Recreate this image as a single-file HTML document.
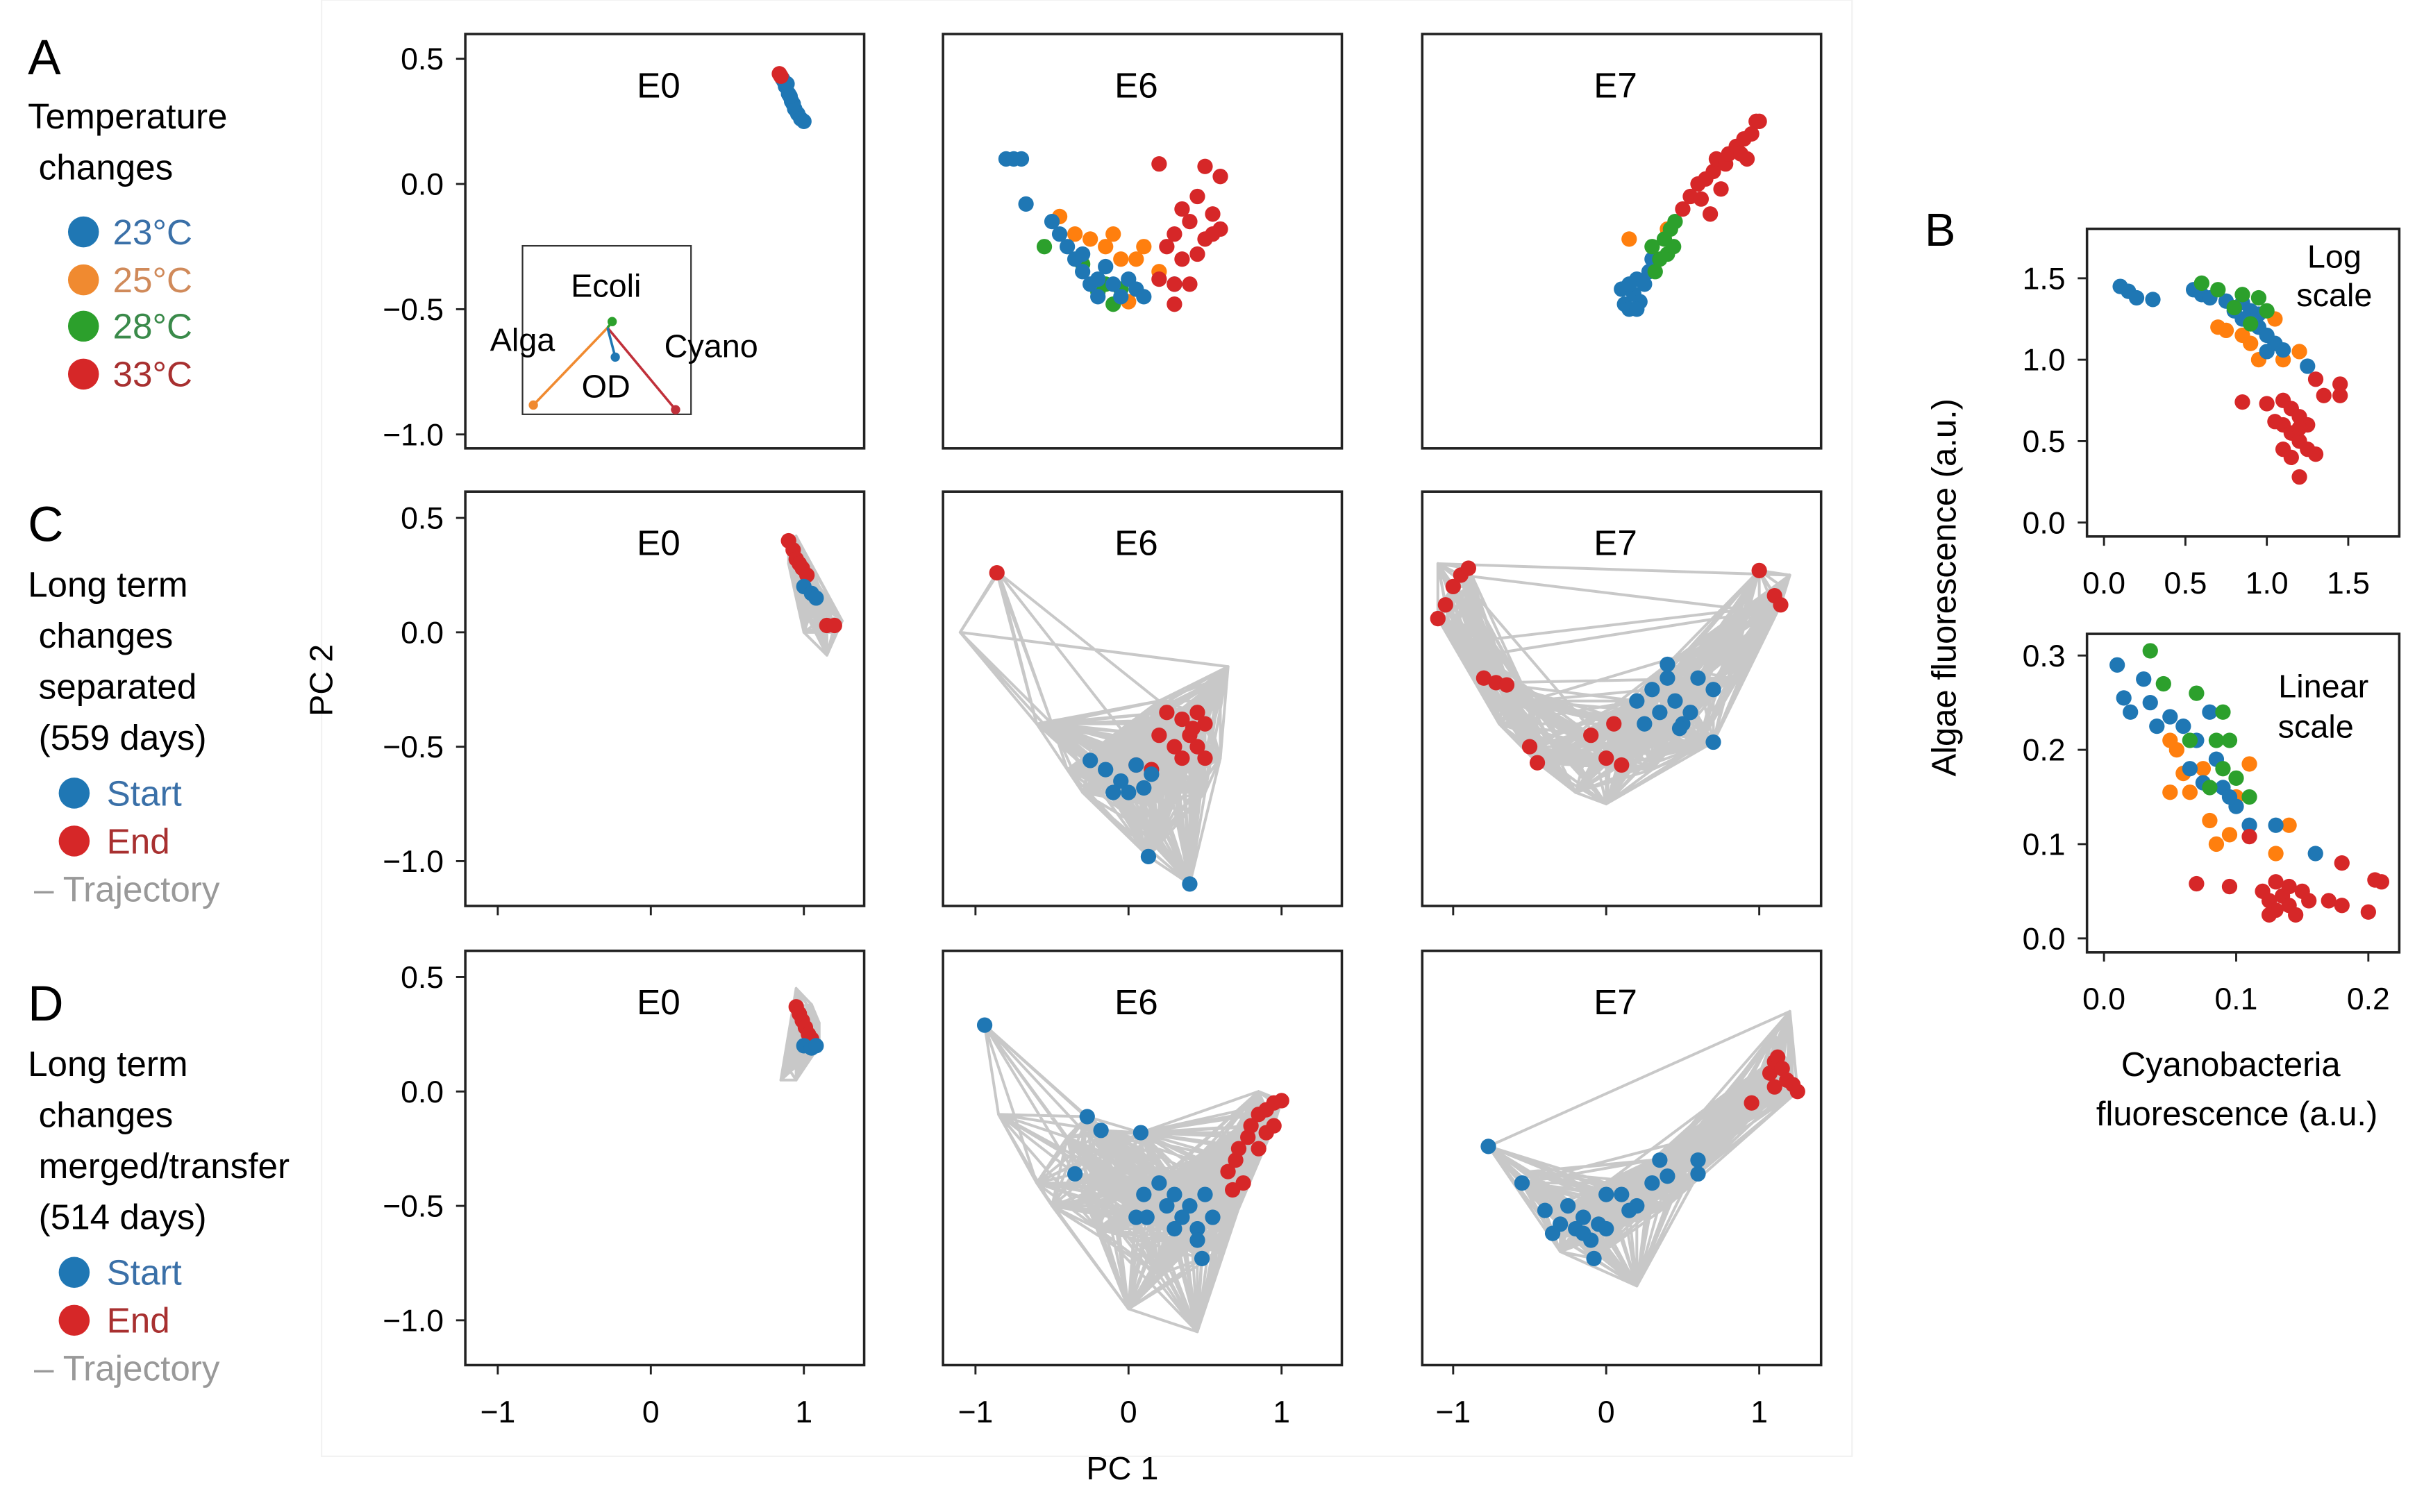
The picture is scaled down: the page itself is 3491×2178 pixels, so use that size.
<!DOCTYPE html>
<html><head><meta charset="utf-8"><style>
html,body{margin:0;padding:0;background:#fff;}
svg{display:block;font-family:"Liberation Sans","DejaVu Sans",sans-serif;}
</style></head><body>
<svg id="fig" width="3491" height="2178" viewBox="0 0 1568 978" preserveAspectRatio="none" xmlns="http://www.w3.org/2000/svg">
<rect x="0" y="0" width="1568" height="978" fill="#fff"/>
<rect x="208" y="0" width="990" height="942" fill="none" stroke="#f2f2f2" stroke-width="1"/>
<g font-size="23">
<text x="18" y="48" font-size="32">A</text>
<text x="18" y="83">Temperature</text>
<text x="25" y="116">changes</text>
<circle cx="54" cy="150" r="10" fill="#1f77b4"/><text x="73" y="158" fill="#3a70a8">23°C</text>
<circle cx="54" cy="181" r="10" fill="#f08a30"/><text x="73" y="189" fill="#d08a5a">25°C</text>
<circle cx="54" cy="211" r="10" fill="#2ca02c"/><text x="73" y="219" fill="#3a8a4a">28°C</text>
<circle cx="54" cy="242" r="10" fill="#d62728"/><text x="73" y="250" fill="#a83030">33°C</text>
</g>
<g font-size="23">
<text x="18" y="350" font-size="32">C</text>
<text x="18" y="386">Long term</text>
<text x="25" y="419">changes</text>
<text x="25" y="452">separated</text>
<text x="25" y="485">(559 days)</text>
<circle cx="48" cy="513" r="10" fill="#1f77b4"/><text x="69" y="521" fill="#3a70a8">Start</text>
<circle cx="48" cy="544" r="10" fill="#d62728"/><text x="69" y="552" fill="#a83030">End</text>
<text x="22" y="583" fill="#999">– Trajectory</text>
</g>
<g font-size="23">
<text x="18" y="660" font-size="32">D</text>
<text x="18" y="696">Long term</text>
<text x="25" y="729">changes</text>
<text x="25" y="762">merged/transfer</text>
<text x="25" y="795">(514 days)</text>
<circle cx="48" cy="823" r="10" fill="#1f77b4"/><text x="69" y="831" fill="#3a70a8">Start</text>
<circle cx="48" cy="854" r="10" fill="#d62728"/><text x="69" y="862" fill="#a83030">End</text>
<text x="22" y="893" fill="#999">– Trajectory</text>
</g>
<text x="726" y="957" font-size="21" text-anchor="middle">PC 1</text>
<text transform="translate(215,440) rotate(-90)" font-size="21" text-anchor="middle">PC 2</text>
<text x="1245" y="159" font-size="30">B</text>
<text transform="translate(1265,380) rotate(-90)" font-size="22" text-anchor="middle">Algae fluorescence (a.u.)</text>
<text x="1443" y="696" font-size="22" text-anchor="middle">Cyanobacteria</text>
<text x="1447" y="728" font-size="22" text-anchor="middle">fluorescence (a.u.)</text>
<text x="1510" y="173" font-size="21" text-anchor="middle">Log</text>
<text x="1510" y="198" font-size="21" text-anchor="middle">scale</text>
<text x="1503" y="451" font-size="21" text-anchor="middle">Linear</text>
<text x="1498" y="477" font-size="21" text-anchor="middle">scale</text>
<g id="plots"></g>
</svg>
<script>
const colors = {b:'#1f77b4', o:'#ff7f0e', g:'#2ca02c', r:'#d62728'};
const xTicksPC = [-1, 0, 1];
const yTicksPC = [0.5, 0.0, -0.5, -1.0];
const yTickLabelsPC = ['0.5', '0.0', '\u22120.5', '\u22121.0'];
const xTickLabelsPC = ['\u22121', '0', '1'];
const colTitles = ['E0', 'E6', 'E7'];

const aE0_b = [[0.86,0.42],[0.88,0.39],[0.89,0.40],[0.9,0.36],[0.92,0.33],[0.93,0.32],[0.94,0.3],[0.96,0.28],[0.98,0.26],[1.0,0.25],[0.87,0.41],[0.91,0.35]];
const aE0_r = [[0.84,0.44],[0.85,0.43]];
const aE6_b = [[-0.8,0.1],[-0.75,0.1],[-0.7,0.1],[-0.67,-0.08],[-0.5,-0.15],[-0.45,-0.2],[-0.4,-0.25],[-0.35,-0.3],[-0.3,-0.35],[-0.25,-0.4],[-0.2,-0.38],[-0.15,-0.33],[-0.1,-0.4],[-0.05,-0.45],[0.0,-0.38],[0.05,-0.42],[0.1,-0.45],[0.3,-0.4],[-0.2,-0.45],[-0.3,-0.28]];
const aE6_o = [[-0.45,-0.13],[-0.35,-0.2],[-0.25,-0.22],[-0.15,-0.25],[0.1,-0.25],[0.05,-0.3],[-0.05,-0.3],[0.2,-0.35],[0.0,-0.47],[-0.1,-0.2]];
const aE6_g = [[-0.55,-0.25],[-0.3,-0.32],[-0.2,-0.43],[-0.1,-0.48],[-0.15,-0.4],[-0.05,-0.42]];
const aE6_r = [[0.2,0.08],[0.5,0.07],[0.6,0.03],[0.45,-0.05],[0.35,-0.1],[0.55,-0.12],[0.4,-0.15],[0.6,-0.18],[0.3,-0.2],[0.5,-0.22],[0.45,-0.28],[0.35,-0.3],[0.3,-0.4],[0.4,-0.4],[0.2,-0.38],[0.3,-0.48],[0.55,-0.2],[0.25,-0.25]];
const aE7_b = [[0.1,-0.42],[0.12,-0.48],[0.15,-0.5],[0.18,-0.44],[0.2,-0.38],[0.22,-0.47],[0.25,-0.4],[0.28,-0.35],[0.15,-0.4],[0.2,-0.5],[0.3,-0.3]];
const aE7_g = [[0.3,-0.25],[0.35,-0.3],[0.38,-0.22],[0.42,-0.18],[0.45,-0.15],[0.4,-0.28],[0.32,-0.35],[0.44,-0.25]];
const aE7_o = [[0.15,-0.22],[0.4,-0.18]];
const aE7_r = [[0.5,-0.1],[0.55,-0.05],[0.6,0.0],[0.65,0.02],[0.7,0.05],[0.72,0.1],[0.78,0.08],[0.8,0.12],[0.85,0.15],[0.88,0.12],[0.9,0.18],[0.95,0.2],[0.98,0.25],[1.0,0.25],[0.75,-0.02],[0.62,-0.06],[0.92,0.1],[0.68,-0.12]];

const cE0_t = [[0.95,0.42],[1.1,0.05],[0.9,0.3],[1.2,0.0],[1.0,0.35],[1.15,-0.1],[0.95,0.2],[1.25,0.05],[1.0,0.1],[0.92,0.38],[1.1,0.2],[1.0,0.0]];
const cE0_r = [[0.9,0.4],[0.93,0.36],[0.95,0.32],[0.97,0.3],[0.99,0.28],[1.02,0.25],[1.15,0.03],[1.2,0.03]];
const cE0_b = [[1.0,0.2],[1.05,0.17],[1.08,0.15]];
const cE6_t = [[-0.85,0.26],[-1.1,0.0],[-0.6,-0.4],[0.1,-0.55],[-0.5,-0.4],[0.5,-0.3],[-0.3,-0.7],[0.6,-0.2],[0.2,-0.9],[0.0,-0.4],[0.65,-0.15],[-0.2,-0.5],[0.4,-1.1],[0.3,-0.6],[0.5,-0.7],[-0.4,-0.6],[0.1,-0.75],[0.6,-0.55],[0.2,-0.3]];
const cE6_r = [[-0.86,0.26],[0.25,-0.35],[0.35,-0.38],[0.45,-0.35],[0.5,-0.4],[0.4,-0.45],[0.3,-0.5],[0.45,-0.5],[0.35,-0.55],[0.5,-0.55],[0.2,-0.45],[0.05,-0.58],[0.15,-0.6],[0.42,-0.42]];
const cE6_b = [[-0.25,-0.56],[-0.15,-0.6],[-0.05,-0.65],[0.05,-0.58],[0.1,-0.68],[-0.1,-0.7],[0.0,-0.7],[0.15,-0.62],[0.13,-0.98],[0.4,-1.1]];
const cE7_t = [[-1.1,0.3],[-0.6,-0.3],[-1.1,0.1],[0.0,-0.75],[-0.8,-0.1],[0.5,-0.4],[-0.4,-0.55],[1.2,0.25],[-0.2,-0.7],[1.0,0.0],[0.3,-0.6],[0.8,-0.2],[-0.9,0.2],[0.2,-0.4],[-0.5,-0.3],[1.1,0.1],[0.6,-0.5],[-1.0,-0.05],[0.9,0.1],[0.0,-0.5],[-0.7,-0.4],[1.15,0.2]];
const cE7_r = [[-1.1,0.06],[-1.05,0.12],[-1.0,0.2],[-0.95,0.25],[-0.9,0.28],[-0.8,-0.2],[-0.72,-0.22],[-0.65,-0.23],[-0.5,-0.5],[-0.45,-0.57],[-0.1,-0.45],[0.0,-0.55],[0.05,-0.4],[0.1,-0.58],[1.0,0.27],[1.1,0.16],[1.14,0.12]];
const cE7_b = [[0.2,-0.3],[0.3,-0.25],[0.35,-0.35],[0.4,-0.2],[0.45,-0.3],[0.5,-0.4],[0.55,-0.35],[0.6,-0.2],[0.7,-0.25],[0.7,-0.48],[0.25,-0.4],[0.4,-0.14],[0.48,-0.42]];

const dE0_t = [[0.95,0.45],[0.85,0.05],[1.1,0.2],[0.9,0.1],[1.05,0.38],[0.95,0.05],[1.1,0.3],[1.0,0.15]];
const dE0_r = [[0.95,0.37],[0.97,0.34],[0.99,0.31],[1.01,0.28],[1.03,0.25],[1.05,0.23]];
const dE0_b = [[1.0,0.2],[1.05,0.19],[1.08,0.2]];
const dE6_t = [[-0.94,0.29],[-0.3,-0.3],[-0.85,-0.1],[0.3,-0.6],[-0.6,-0.4],[0.7,-0.3],[-0.2,-0.6],[0.0,-0.95],[0.3,-0.4],[-0.4,-0.2],[0.45,-1.05],[0.5,-0.5],[-0.1,-0.4],[0.85,0.0],[0.2,-0.8],[0.6,-0.7],[0.9,-0.2],[-0.5,-0.5]];
const dE6_b = [[-0.94,0.29],[-0.27,-0.11],[-0.18,-0.17],[0.08,-0.18],[-0.35,-0.36],[0.05,-0.55],[0.1,-0.45],[0.2,-0.4],[0.25,-0.5],[0.3,-0.45],[0.35,-0.55],[0.4,-0.5],[0.45,-0.6],[0.5,-0.45],[0.55,-0.55],[0.12,-0.55],[0.48,-0.73],[0.45,-0.65],[0.3,-0.6]];
const dE6_r = [[0.65,-0.35],[0.7,-0.3],[0.72,-0.25],[0.78,-0.2],[0.8,-0.15],[0.85,-0.1],[0.9,-0.08],[0.95,-0.05],[1.0,-0.04],[0.75,-0.4],[0.85,-0.25],[0.9,-0.18],[0.68,-0.43],[0.95,-0.15]];
const dE7_t = [[-0.77,-0.24],[0.5,-0.3],[-0.5,-0.35],[1.2,0.35],[0.0,-0.6],[0.8,0.0],[-0.3,-0.7],[1.2,0.1],[0.2,-0.85],[0.6,-0.2],[0.0,-0.4],[1.1,0.25],[0.4,-0.5],[0.9,-0.1],[-0.2,-0.5],[1.25,0.0],[0.3,-0.3]];
const dE7_b = [[-0.77,-0.24],[-0.55,-0.4],[-0.4,-0.52],[-0.3,-0.58],[-0.25,-0.5],[-0.2,-0.6],[-0.15,-0.55],[-0.1,-0.65],[-0.05,-0.58],[0.0,-0.6],[-0.15,-0.62],[-0.08,-0.73],[0.0,-0.45],[0.1,-0.45],[0.2,-0.5],[0.3,-0.4],[0.35,-0.3],[0.4,-0.37],[0.6,-0.3],[0.6,-0.36],[-0.35,-0.62],[0.15,-0.52]];
const dE7_r = [[0.95,-0.05],[1.07,0.08],[1.1,0.13],[1.12,0.15],[1.15,0.1],[1.18,0.05],[1.22,0.03],[1.25,0.0],[1.1,0.02]];

const bLogXTicks = [0.0, 0.5, 1.0, 1.5];
const bLogYTicks = [0.0, 0.5, 1.0, 1.5];
const bLinXTicks = [0.0, 0.1, 0.2];
const bLinYTicks = [0.0, 0.1, 0.2, 0.3];
const bLog_b = [[0.1,1.45],[0.15,1.42],[0.2,1.38],[0.3,1.37],[0.55,1.43],[0.6,1.4],[0.65,1.38],[0.75,1.36],[0.8,1.3],[0.85,1.25],[0.9,1.3],[0.95,1.2],[1.0,1.15],[1.05,1.1],[1.1,1.06],[1.25,0.96],[0.85,1.35],[0.95,1.28],[1.0,1.05]];
const bLog_g = [[0.6,1.47],[0.7,1.43],[0.85,1.4],[0.95,1.38],[1.0,1.3],[0.9,1.22],[0.8,1.32]];
const bLog_o = [[0.7,1.2],[0.75,1.18],[0.9,1.1],[0.95,1.0],[1.1,1.0],[1.2,1.05],[1.05,1.25],[0.85,1.15]];
const bLog_r = [[0.85,0.74],[1.0,0.73],[1.1,0.75],[1.15,0.7],[1.2,0.65],[1.25,0.6],[1.1,0.6],[1.15,0.55],[1.2,0.5],[1.25,0.45],[1.3,0.42],[1.1,0.45],[1.15,0.4],[1.2,0.28],[1.3,0.88],[1.45,0.85],[1.45,0.78],[1.35,0.78],[1.2,0.58],[1.05,0.62]];
const bLin_b = [[0.01,0.29],[0.015,0.255],[0.02,0.24],[0.03,0.275],[0.035,0.25],[0.04,0.225],[0.05,0.235],[0.06,0.225],[0.07,0.21],[0.08,0.24],[0.065,0.18],[0.075,0.165],[0.09,0.16],[0.1,0.14],[0.11,0.12],[0.13,0.12],[0.16,0.09],[0.085,0.19],[0.095,0.15]];
const bLin_g = [[0.035,0.305],[0.045,0.27],[0.07,0.26],[0.09,0.24],[0.065,0.21],[0.085,0.21],[0.095,0.21],[0.09,0.18],[0.1,0.17],[0.11,0.15],[0.08,0.16]];
const bLin_o = [[0.05,0.21],[0.055,0.2],[0.06,0.175],[0.05,0.155],[0.065,0.155],[0.075,0.18],[0.08,0.125],[0.085,0.1],[0.095,0.11],[0.11,0.185],[0.13,0.09],[0.14,0.12],[0.1,0.15]];
const bLin_r = [[0.07,0.058],[0.095,0.055],[0.12,0.05],[0.125,0.04],[0.13,0.03],[0.135,0.045],[0.14,0.035],[0.145,0.025],[0.15,0.05],[0.155,0.04],[0.14,0.055],[0.13,0.06],[0.11,0.108],[0.18,0.08],[0.17,0.04],[0.18,0.035],[0.2,0.028],[0.205,0.062],[0.21,0.06],[0.125,0.025]];

const NS = 'http://www.w3.org/2000/svg';
const root = document.getElementById('plots');
const R = 5;
function mk(tag, attrs, parent) {
  const e = document.createElementNS(NS, tag);
  for (const k in attrs) e.setAttribute(k, attrs[k]);
  (parent || root).appendChild(e);
  return e;
}
function scale(v0, p0, v1, p1) { return v => p0 + (v - v0) * (p1 - p0) / (v1 - v0); }

const colLeft = [301, 610, 920], colZero = [421, 730, 1039];
const rows = [
  {top:22, bot:290, y:scale(0,119,0.5,38), xlab:false, xtick:false, name:'a'},
  {top:318, bot:586, y:scale(0,409,0.5,335), xlab:false, xtick:true, name:'c'},
  {top:615, bot:883, y:scale(0,706,0.5,632), xlab:true, xtick:true, name:'d'}
];
const rowData = [
  [[[aE0_b,'b'],[aE0_r,'r']], [[aE6_o,'o'],[aE6_g,'g'],[aE6_b,'b'],[aE6_r,'r']], [[aE7_b,'b'],[aE7_o,'o'],[aE7_g,'g'],[aE7_r,'r']]],
  [[[cE0_r,'r'],[cE0_b,'b']], [[cE6_r,'r'],[cE6_b,'b']], [[cE7_r,'r'],[cE7_b,'b']]],
  [[[dE0_r,'r'],[dE0_b,'b']], [[dE6_b,'b'],[dE6_r,'r']], [[dE7_b,'b'],[dE7_r,'r']]]
];
const rowTraj = [[null,null,null],[cE0_t,cE6_t,cE7_t],[dE0_t,dE6_t,dE7_t]];

rows.forEach((row, ri) => {
  for (let ci = 0; ci < 3; ci++) {
    const g = mk('g', {});
    
    
    const x = scale(0, colZero[ci], 1, colZero[ci] + 99);
    const y = row.y;
    const clip = 'clip' + ri + ci;
    const cp = mk('clipPath', {id: clip}, g);
    mk('rect', {x: colLeft[ci], y: row.top, width: 258, height: row.bot - row.top}, cp);
    const plot = mk('g', {'clip-path': 'url(#' + clip + ')'}, g);
    const traj = rowTraj[ri][ci];
    if (traj) {
      const pts = traj.slice();
      rowData[ri][ci].forEach(s => s[0].forEach(p => pts.push(p)));
      let d = '';
      for (let i = 0; i < pts.length; i++) {
        for (let j = i + 1; j < pts.length; j++) {
          const dx = pts[i][0] - pts[j][0], dy = pts[i][1] - pts[j][1];
          if (Math.sqrt(dx * dx + dy * dy) < 0.9) {
            d += 'M' + x(pts[i][0]).toFixed(1) + ' ' + y(pts[i][1]).toFixed(1) + 'L' + x(pts[j][0]).toFixed(1) + ' ' + y(pts[j][1]).toFixed(1);
          }
        }
      }
      for (let i = 0; i < traj.length; i++) {
        const a = traj[i], b = pts[(i * 7 + 3) % pts.length];
        d += 'M' + x(a[0]).toFixed(1) + ' ' + y(a[1]).toFixed(1) + 'L' + x(b[0]).toFixed(1) + ' ' + y(b[1]).toFixed(1);
      }
      const pl = mk('path', {d: d, fill: 'none', stroke: '#c8c8c8', 'stroke-width': 1.8, 'stroke-linecap': 'round'}, plot);
      
      
    }
    rowData[ri][ci].forEach(s => {
      s[0].forEach(p => {
        const c = mk('circle', {cx: x(p[0]), cy: y(p[1]), r: R, fill: colors[s[1]]}, plot);
        
        
      });
    });
    const fr = mk('rect', {x: colLeft[ci], y: row.top, width: 258, height: row.bot - row.top, fill: 'none', stroke: '#222', 'stroke-width': 1.6}, g);
    
    
    const t = mk('text', {x: colLeft[ci] + 125, y: row.top + 41, 'font-size': 23, 'text-anchor': 'middle'}, g);
    t.textContent = colTitles[ci];
    
    
    if (ci === 0) {
      yTicksPC.forEach((v, i) => {
        mk('line', {x1: colLeft[ci] - 6, x2: colLeft[ci], y1: y(v), y2: y(v), stroke: '#222', 'stroke-width': 1.3}, g);
        const tl = mk('text', {x: colLeft[ci] - 14, y: y(v) + 7, 'font-size': 20, 'text-anchor': 'end'}, g);
        tl.textContent = yTickLabelsPC[i];
        
        
      });
    }
    if (row.xtick) {
      xTicksPC.forEach((v, i) => {
        mk('line', {x1: x(v), x2: x(v), y1: row.bot, y2: row.bot + 6, stroke: '#222', 'stroke-width': 1.3}, g);
        if (row.xlab) {
          const tl = mk('text', {x: x(v), y: row.bot + 37, 'font-size': 20, 'text-anchor': 'middle'}, g);
          tl.textContent = xTickLabelsPC[i];
          
          
        }
      });
    }
  }
});

(function () {
  const g = mk('g', {});
  
  
  mk('rect', {x: 338, y: 159, width: 109, height: 109, fill: '#fff', stroke: '#333', 'stroke-width': 1}, g);
  const ox = 393, oy = 212;
  const arrows = [[345, 262, '#f08a30'], [437, 265, '#c0303a'], [396, 208, '#2ca02c'], [398, 231, '#1f77b4']];
  arrows.forEach(a => {
    mk('line', {x1: ox, y1: oy, x2: a[0], y2: a[1], stroke: a[2], 'stroke-width': 1.6}, g);
    mk('circle', {cx: a[0], cy: a[1], r: 3, fill: a[2]}, g);
  });
  [['Ecoli', 392, 192], ['Alga', 338, 227], ['Cyano', 460, 231], ['OD', 392, 257]].forEach(l => {
    const t = mk('text', {x: l[1], y: l[2], 'font-size': 21, 'text-anchor': 'middle'}, g);
    t.textContent = l[0];
    
    
  });
})();

function bPanel(name, top, bot, xs, ys, xt, yt, series) {
  const g = mk('g', {});
  
  
  series.forEach(s => s[0].forEach(p => {
    const c = mk('circle', {cx: xs(p[0]), cy: ys(p[1]), r: R, fill: colors[s[1]]}, g);
    
    
  }));
  mk('rect', {x: 1350, y: top, width: 202, height: bot - top, fill: 'none', stroke: '#222', 'stroke-width': 1.6}, g);
  xt.forEach(v => {
    mk('line', {x1: xs(v), x2: xs(v), y1: bot, y2: bot + 6, stroke: '#222', 'stroke-width': 1.3}, g);
    const t = mk('text', {x: xs(v), y: bot + 37, 'font-size': 20, 'text-anchor': 'middle'}, g);
    t.textContent = v.toFixed(1);
    
    
  });
  yt.forEach(v => {
    mk('line', {x1: 1344, x2: 1350, y1: ys(v), y2: ys(v), stroke: '#222', 'stroke-width': 1.3}, g);
    const t = mk('text', {x: 1336, y: ys(v) + 7, 'font-size': 20, 'text-anchor': 'end'}, g);
    t.textContent = v.toFixed(1);
    
    
  });
}
bPanel('log-scale-scatter', 148, 347, scale(0, 1361, 1.5, 1519), scale(0, 338, 1.5, 180), bLogXTicks, bLogYTicks,
  [[bLog_o, 'o'], [bLog_b, 'b'], [bLog_g, 'g'], [bLog_r, 'r']]);
bPanel('linear-scale-scatter', 410, 616, scale(0, 1361, 0.2, 1532), scale(0, 607, 0.3, 424), bLinXTicks, bLinYTicks,
  [[bLin_o, 'o'], [bLin_b, 'b'], [bLin_g, 'g'], [bLin_r, 'r']]);
</script>
</body></html>
